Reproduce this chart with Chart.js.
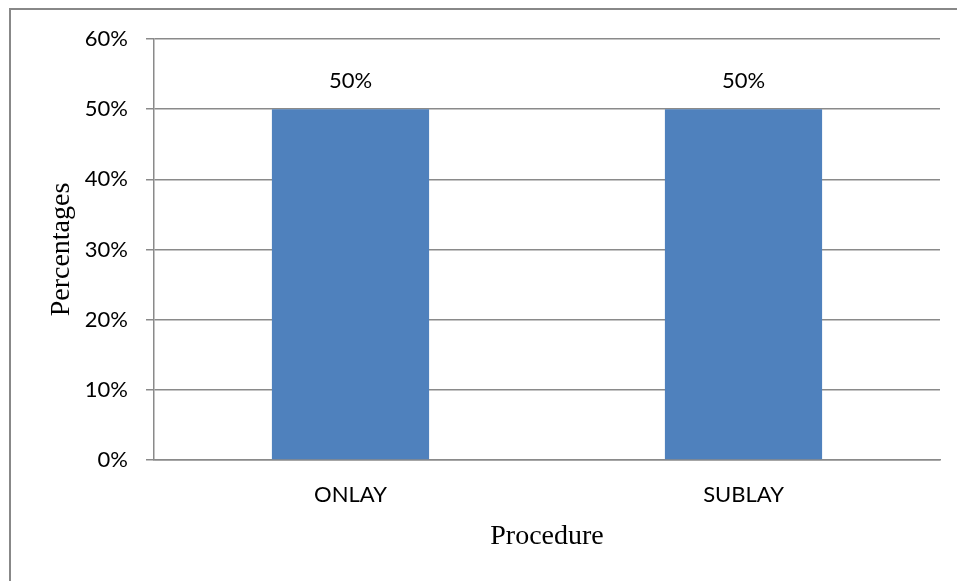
<!DOCTYPE html>
<html>
<head>
<meta charset="utf-8">
<script src="https://cdn.jsdelivr.net/npm/chart.js@4"></script>
<style>
  html, body { margin: 0; padding: 0; background: #fff; overflow: hidden; }
  #wrap { position: relative; width: 957px; height: 581px; }
  #frame { position: absolute; left: 9px; top: 8px; width: 1100px; height: 800px; border: 2px solid #888; box-sizing: border-box; }
  #chart { position: absolute; left: 0; top: 0; }
</style>
</head>
<body>
<div id="wrap">
  <div id="frame"></div>
  <canvas id="chart" width="957" height="581"></canvas>
</div>
<script>
// Share of procedures by technique
const categories = ['ONLAY', 'SUBLAY'];
const shares = [50, 50];
const yTicks = [0, 10, 20, 30, 40, 50, 60];

const barColor = '#4F81BD';
const lineColor = '#8a8a8a';
const sans = 'Lato';
const serif = 'Liberation Serif';

// Writes each bar's value above it
const valueLabels = {
  id: 'valueLabels',
  afterDatasetsDraw(chart) {
    const ctx = chart.ctx;
    ctx.save();
    ctx.font = '22px ' + sans;
    ctx.fillStyle = '#000';
    ctx.textAlign = 'center';
    ctx.textBaseline = 'middle';
    chart.data.datasets.forEach((ds, i) => {
      chart.getDatasetMeta(i).data.forEach((bar, j) => {
        ctx.fillText(ds.data[j] + '%', bar.x, bar.y - 28);
      });
    });
    ctx.restore();
  }
};

new Chart(document.getElementById('chart'), {
  type: 'bar',
  data: {
    labels: categories,
    datasets: [{
      data: shares,
      backgroundColor: barColor,
      borderWidth: 0,
      categoryPercentage: 1,
      barPercentage: 0.4
    }]
  },
  options: {
    responsive: false,
    animation: false,
    layout: { padding: { left: 0, top: 39, right: 17, bottom: 0 } },
    plugins: {
      legend: { display: false },
      tooltip: { enabled: false }
    },
    scales: {
      x: {
        grid: { display: false, drawTicks: false },
        border: { display: true, color: lineColor, width: 1.5 },
        ticks: { color: '#000', font: { family: sans, size: 22 }, padding: 22 },
        title: {
          display: true,
          text: 'Procedure',
          color: '#000',
          font: { family: serif, size: 28 },
          padding: { top: 0, bottom: 28 }
        },
        afterFit(scale) { scale.height = 121; }
      },
      y: {
        min: 0,
        max: 60,
        afterBuildTicks(scale) { scale.ticks = yTicks.map(v => ({ value: v })); },
        grid: { color: lineColor, lineWidth: 1.5, tickLength: 8, drawTicks: true },
        border: { display: true, color: lineColor, width: 1.5 },
        ticks: {
          color: '#000',
          font: { family: sans, size: 22 },
          padding: 18,
          callback: v => v + '%'
        },
        title: {
          display: true,
          text: 'Percentages',
          color: '#000',
          font: { family: serif, size: 28 },
          padding: { top: 45, bottom: 0 }
        },
        afterFit(scale) { scale.width = 154; }
      }
    }
  },
  plugins: [valueLabels]
});
</script>
</body>
</html>
